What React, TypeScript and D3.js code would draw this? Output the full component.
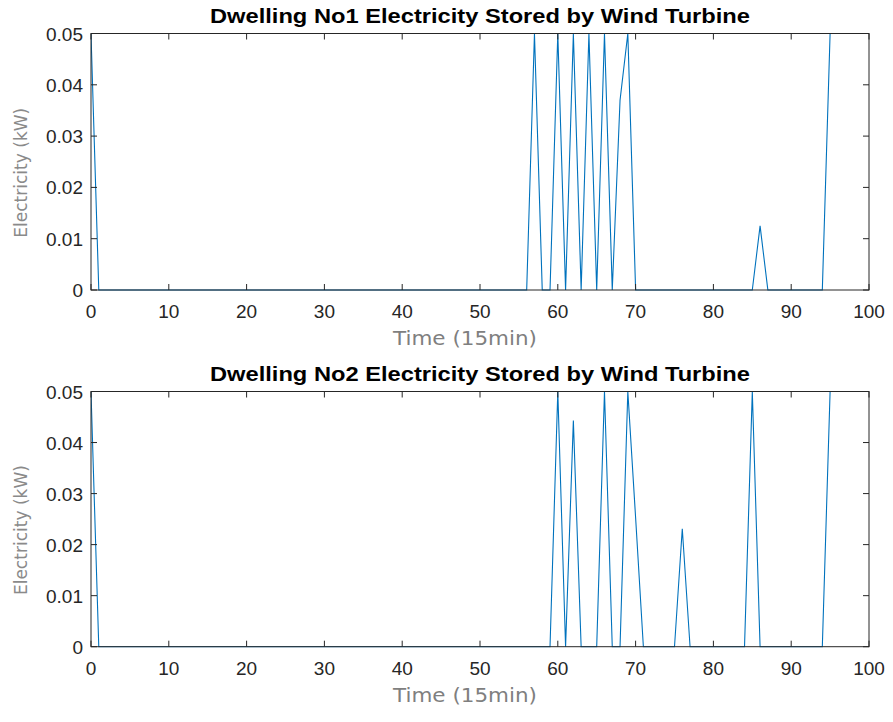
import React from "react";
import * as d3 from "d3";

const W = 893;
const H = 722;

const timeSteps: number[] = Array.from({ length: 96 }, (_, i) => i);

// Non-zero values (index -> kW); all other steps are 0
const dwelling1Peaks: [number, number][] = [
  [0, 0.05], [57, 0.05], [60, 0.05], [62, 0.05], [64, 0.05], [66, 0.05],
  [68, 0.037], [69, 0.05], [86, 0.0125], [95, 0.05],
];
const dwelling2Peaks: [number, number][] = [
  [0, 0.05], [60, 0.05], [62, 0.0443], [66, 0.05], [69, 0.05], [70, 0.0253],
  [76, 0.0231], [85, 0.05], [95, 0.05],
];

const xTicks = [0, 10, 20, 30, 40, 50, 60, 70, 80, 90, 100];
const yTicks = [0, 0.01, 0.02, 0.03, 0.04, 0.05];
const titles = [
  "Dwelling No1 Electricity Stored by Wind Turbine",
  "Dwelling No2 Electricity Stored by Wind Turbine",
];

function toSeries(peaks: [number, number][]): number[] {
  const m = new Map(peaks);
  return timeSteps.map((t) => m.get(t) ?? 0);
}

const series = [toSeries(dwelling1Peaks), toSeries(dwelling2Peaks)];

const panels = [
  { top: 33.5, bottom: 290 },
  { top: 391.5, bottom: 646.7 },
];

const LEFT = 91;
const RIGHT = 869;
const AX = "#262626";

function Panel({ idx }: { idx: number }) {
  const p = panels[idx];
  const x = d3.scaleLinear().domain([0, 100]).range([LEFT, RIGHT]);
  const y = d3.scaleLinear().domain([0, 0.05]).range([p.bottom, p.top]);
  const line = d3
    .line<number>()
    .x((_, i) => x(timeSteps[i]))
    .y((d) => y(d));
  const clipId = `clip${idx}`;
  const tl = 6;
  return (
    <g>
      <defs>
        <clipPath id={clipId}>
          <rect x={LEFT} y={p.top - 1} width={RIGHT - LEFT} height={p.bottom - p.top + 2} />
        </clipPath>
      </defs>
      <rect x={LEFT} y={p.top} width={RIGHT - LEFT} height={p.bottom - p.top} fill="white" />
      <path
        d={line(series[idx]) || ""}
        fill="none"
        stroke="#0072BD"
        strokeWidth={1.1}
        clipPath={`url(#${clipId})`}
      />
      <rect
        x={LEFT}
        y={p.top}
        width={RIGHT - LEFT}
        height={p.bottom - p.top}
        fill="none"
        stroke={AX}
        strokeWidth={1}
      />
      {xTicks.map((t) => (
        <g key={"x" + t}>
          <line x1={x(t)} x2={x(t)} y1={p.bottom} y2={p.bottom - tl} stroke={AX} />
          <line x1={x(t)} x2={x(t)} y1={p.top} y2={p.top + tl} stroke={AX} />
          <text
            x={x(t)}
            y={p.bottom + 28}
            textAnchor="middle"
            fontFamily="Liberation Sans, Arial, sans-serif"
            fontSize={19}
            fill={AX}
          >
            {t}
          </text>
        </g>
      ))}
      {yTicks.map((t) => (
        <g key={"y" + t}>
          <line x1={LEFT} x2={LEFT + tl} y1={y(t)} y2={y(t)} stroke={AX} />
          <line x1={RIGHT} x2={RIGHT - tl} y1={y(t)} y2={y(t)} stroke={AX} />
          <text
            x={LEFT - 8}
            y={y(t) + 7}
            textAnchor="end"
            fontFamily="Liberation Sans, Arial, sans-serif"
            fontSize={19}
            fill={AX}
          >
            {t === 0 ? "0" : t.toFixed(2)}
          </text>
        </g>
      ))}
      <text
        x={(LEFT + RIGHT) / 2}
        y={p.top - 11}
        textAnchor="middle"
        fontFamily="Liberation Sans, Arial, sans-serif"
        fontWeight="bold"
        fontSize={21}
        textLength={540}
        lengthAdjust="spacingAndGlyphs"
        fill="#000"
      >
        {titles[idx]}
      </text>
      <text
        x={465}
        y={p.bottom + 55}
        textAnchor="middle"
        fontFamily="DejaVu Sans, Verdana, sans-serif"
        fontSize={19}
        textLength={144}
        lengthAdjust="spacingAndGlyphs"
        fill="#7f7f7f"
      >
        Time (15min)
      </text>
      <text
        transform={`translate(27, ${(p.top + p.bottom) / 2 + 11}) rotate(-90)`}
        textAnchor="middle"
        fontFamily="DejaVu Sans, Verdana, sans-serif"
        fontSize={17}
        textLength={130}
        lengthAdjust="spacingAndGlyphs"
        fill="#8a8a8a"
      >
        Electricity (kW)
      </text>
    </g>
  );
}

export default function App() {
  return (
    <svg
      width={W}
      height={H}
      style={{ position: "absolute", left: 0, top: 0, background: "white" }}
    >
      <rect width={W} height={H} fill="white" />
      <Panel idx={0} />
      <Panel idx={1} />
    </svg>
  );
}
